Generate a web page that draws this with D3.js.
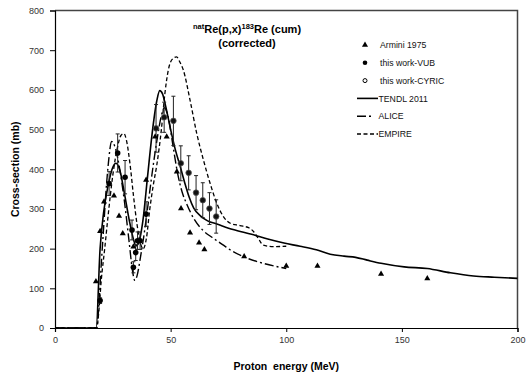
<!DOCTYPE html>
<html>
<head>
<meta charset="utf-8">
<script src="https://cdn.jsdelivr.net/npm/d3@7"></script>
<style>
  body { margin: 0; background: #fff; }
  svg { display: block; font-family: "Liberation Sans", Arial, sans-serif; }
</style>
</head>
<body>
<div id="chart"></div>
<script>
// values (energy MeV, cross-section mb)
var armini = [[17.7,117],[19.5,244],[21.2,318],[25.5,333],[27.7,282],[29.3,238],[33.9,205],
    [39.4,373],[43.3,482],[48.3,482],[52.7,394],[54.5,301],[58.4,240],[62.3,215],[64.6,198],
    [81.8,180],[100,156],[113.5,156],[141,136],[161,125]];

// [energy, value, error]
var vub = [[19.5,69,7],[23.4,364,30],[27.1,441,48],[30.3,380,42],[33.3,247,25],[33.9,153,14],
    [34.9,190,20],[35.7,220,22],[36.8,220,22],[39.4,287,31]];
var cyric = [[43.7,503,60],[47.2,531,38],[51.2,522,62],[54.4,415,44],[57.8,391,43],
    [61,341,43],[63.9,322,44],[66.8,301,40],[69.7,281,42]];

var tendl = [[0,0],[17.8,0],[19.5,200],[21,290],[23,360],[25,405],[26.4,415],[28,398],[30,340],
    [32,275],[34,222],[35,207],[36,212],[38,270],[40,380],[42,490],[44,572],[45.3,598],[46.5,590],
    [48,555],[50,500],[52,450],[54,410],[56,368],[58,330],[60,302],[63,282],[66,270],[70,262],
    [77,248],[85,236],[92,224],[99,214],[106,206],[113,197],[119,186],[125,181],[130,178],
    [135,171],[141,163],[151,154],[161,150],[171,139],[181,131],[190,128],[200,125]];
var alice = [[0,0],[18,0],[19,60],[20,160],[21,250],[22,340],[23,410],[24.5,470],[26,455],
    [28,400],[30,320],[32,220],[33.5,145],[34.5,120],[35.5,132],[37,180],[38.5,235],[40,300],
    [42,390],[44,470],[46,535],[47.3,555],[49,530],[51,460],[53,390],[55,342],[57,312],[60,276],
    [64,246],[68,228],[73,208],[76,196],[81,181],[90,163],[100,150]];
var empire = [[0,0],[18,0],[19,45],[20,120],[21.5,200],[23,285],[25,385],[27,455],[28.5,485],
    [29.8,490],[31,470],[32.5,410],[34,330],[35.5,260],[37,212],[38.2,200],[39.5,225],[41,300],
    [42.5,360],[44,410],[46,500],[47.5,590],[49,650],[51,679],[52.6,683],[54,670],[55.5,650],
    [58.4,574],[61.3,490],[64.2,423],[67.1,364],[70,314],[72.9,280],[75.8,264],[80,258],[84,252],
    [86,242],[88,225],[90,209],[94.5,205],[100,206]];

var xTicks = [0, 50, 100, 150, 200];
var yTicks = [0, 100, 200, 300, 400, 500, 600, 700, 800];
var legendItems = ['Armini 1975', 'this work-VUB', 'this work-CYRIC', 'TENDL 2011', 'ALICE', 'EMPIRE'];

var width = 526, height = 376;
var margin = {top: 10.5, right: 8.5, bottom: 48, left: 55};

var svg = d3.select('#chart').append('svg')
    .attr('width', width)
    .attr('height', height);

var x = d3.scaleLinear()
    .domain([0, 200])
    .range([margin.left, width - margin.right]);

var y = d3.scaleLinear()
    .domain([0, 800])
    .range([height - margin.bottom, margin.top]);

// frame (top and right sides)
svg.append('path')
    .attr('d', 'M' + x(0) + ',' + y(800) + 'H' + x(200) + 'V' + y(0))
    .attr('fill', 'none')
    .attr('stroke', '#444')
    .attr('stroke-width', 1.5);

var xAxis = svg.append('g')
    .attr('transform', 'translate(0,' + y(0) + ')')
    .call(d3.axisBottom(x).tickValues(xTicks).tickSize(4).tickPadding(5));
xAxis.select('.domain').attr('stroke', '#000').attr('stroke-width', 1.2);
xAxis.selectAll('text').attr('font-size', 9).attr('fill', '#333').attr('font-family', 'Liberation Sans, Arial, sans-serif');

var yAxis = svg.append('g')
    .attr('transform', 'translate(' + x(0) + ',0)')
    .call(d3.axisLeft(y).tickValues(yTicks).tickSize(5).tickPadding(6));
yAxis.select('.domain').attr('stroke', '#000').attr('stroke-width', 1.2);
yAxis.selectAll('text').attr('font-size', 9).attr('fill', '#333').attr('font-family', 'Liberation Sans, Arial, sans-serif');

// curves
var line = d3.line()
    .x(function(d) { return x(d[0]); })
    .y(function(d) { return y(d[1]); })
    .curve(d3.curveMonotoneX);

var curves = [
    {data: tendl, dash: null, w: 1.6},
    {data: alice, dash: '9,3,2,3', w: 1.4},
    {data: empire, dash: '4,2.5', w: 1.3}
];
curves.forEach(function(c) {
    svg.append('path')
        .datum(c.data)
        .attr('fill', 'none')
        .attr('stroke', '#000')
        .attr('stroke-width', c.w)
        .attr('stroke-dasharray', c.dash)
        .attr('d', line);
});

// error bars
var errData = vub.concat(cyric);
var eb = svg.append('g').attr('stroke', '#222').attr('stroke-width', 1);
eb.selectAll('line.v').data(errData).enter().append('line')
    .attr('x1', function(d) { return x(d[0]); })
    .attr('x2', function(d) { return x(d[0]); })
    .attr('y1', function(d) { return y(d[1] - d[2]); })
    .attr('y2', function(d) { return y(d[1] + d[2]); });
[-1, 1].forEach(function(s) {
    eb.selectAll(null).data(errData).enter().append('line')
        .attr('x1', function(d) { return x(d[0]) - 2; })
        .attr('x2', function(d) { return x(d[0]) + 2; })
        .attr('y1', function(d) { return y(d[1] + s * d[2]); })
        .attr('y2', function(d) { return y(d[1] + s * d[2]); });
});

// markers
var tri = d3.symbol().type(d3.symbolTriangle).size(16);
svg.append('g').selectAll('path').data(armini).enter().append('path')
    .attr('d', tri)
    .attr('transform', function(d) { return 'translate(' + x(d[0]) + ',' + y(d[1]) + ')'; })
    .attr('fill', '#000');

svg.append('g').selectAll('circle').data(vub).enter().append('circle')
    .attr('cx', function(d) { return x(d[0]); })
    .attr('cy', function(d) { return y(d[1]); })
    .attr('r', 2.8)
    .attr('fill', '#000');

svg.append('g').selectAll('circle').data(cyric).enter().append('circle')
    .attr('cx', function(d) { return x(d[0]); })
    .attr('cy', function(d) { return y(d[1]); })
    .attr('r', 2.8)
    .attr('fill', '#111')
    .attr('stroke', '#555')
    .attr('stroke-width', 0.8);

// title
var title = svg.append('text')
    .attr('x', 247)
    .attr('y', 33)
    .attr('text-anchor', 'middle')
    .attr('font-weight', 'bold')
    .attr('font-size', 11);
title.append('tspan').attr('font-size', 7.5).attr('dy', -4).text('nat');
title.append('tspan').attr('dy', 4).text('Re(p,x)');
title.append('tspan').attr('font-size', 7.5).attr('dy', -4).text('183');
title.append('tspan').attr('dy', 4).text('Re (cum)');
svg.append('text')
    .attr('x', 247)
    .attr('y', 47)
    .attr('text-anchor', 'middle')
    .attr('font-weight', 'bold')
    .attr('font-size', 11)
    .text('(corrected)');

// legend
var lg = svg.append('g').attr('font-size', 8.7).attr('fill', '#111');
legendItems.forEach(function(name, i) {
    var ly = 45 + i * 17.8;
    var row = lg.append('g').attr('transform', 'translate(0,' + ly + ')');
    if (i === 0) {
        row.append('path').attr('d', tri).attr('transform', 'translate(365,0)').attr('fill', '#000');
    } else if (i === 1) {
        row.append('circle').attr('cx', 365).attr('cy', 0).attr('r', 2.3).attr('fill', '#000');
    } else if (i === 2) {
        row.append('circle').attr('cx', 365).attr('cy', 0).attr('r', 2).attr('fill', '#fff')
            .attr('stroke', '#000').attr('stroke-width', 1);
    } else {
        row.append('line').attr('x1', 357).attr('x2', i === 4 ? 372 : 378).attr('y1', 0).attr('y2', 0)
            .attr('stroke', '#000')
            .attr('stroke-width', curves[i - 3].w)
            .attr('stroke-dasharray', curves[i - 3].dash);
    }
    row.append('text')
        .attr('x', i < 3 ? 380 : 378.5)
        .attr('y', 3.2)
        .text(name);
});

// axis titles
svg.append('text')
    .attr('x', x(100))
    .attr('y', 370)
    .attr('text-anchor', 'middle')
    .attr('font-weight', 'bold')
    .attr('font-size', 10.5)
    .style('white-space', 'pre')
    .text('Proton  energy (MeV)');

svg.append('text')
    .attr('transform', 'translate(19,' + y(400) + ') rotate(-90)')
    .attr('text-anchor', 'middle')
    .attr('font-weight', 'bold')
    .attr('font-size', 10.5)
    .text('Cross-section (mb)');
</script>
</body>
</html>
